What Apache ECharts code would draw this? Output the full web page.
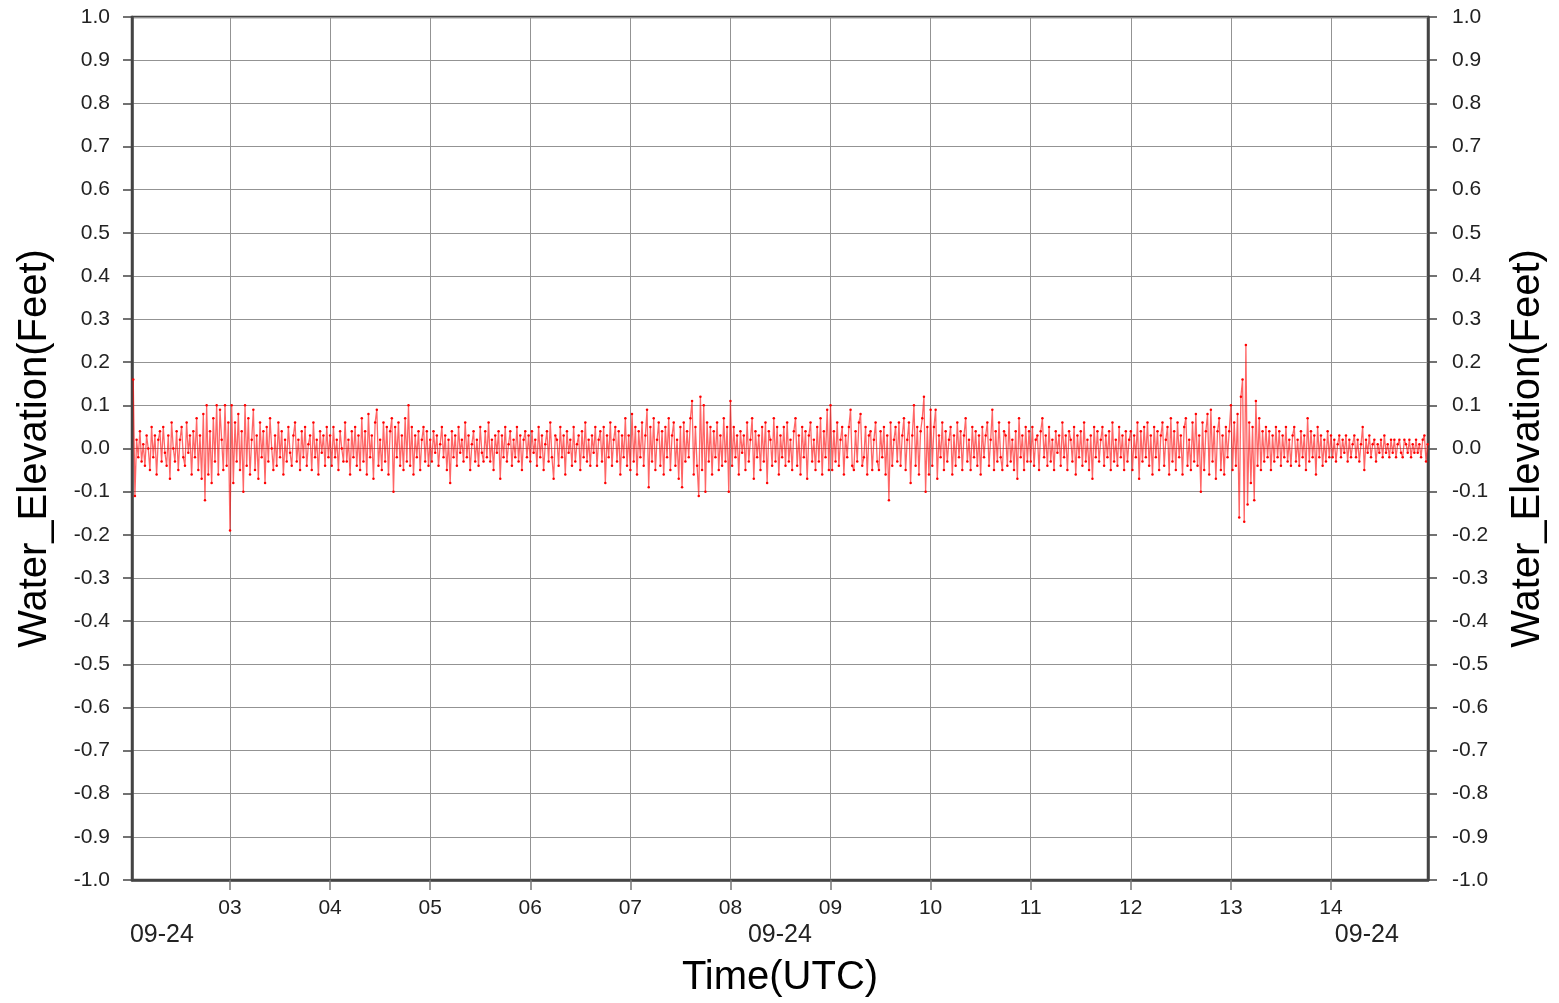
<!DOCTYPE html>
<html>
<head>
<meta charset="utf-8">
<script src="https://cdn.jsdelivr.net/npm/echarts@6/dist/echarts.min.js"></script>
<style>html,body{margin:0;padding:0;background:#fff}#c{width:1559px;height:1003px}</style>
</head>
<body>
<div id="c"></div>
<script>
// Water elevation (ft), one sample per minute, grouped per UTC hour on 09-24
const h02 = [.16,-.11,.02,-.02,.04,-.03,.01,-.04,
 .03,.00,-.05,.05,-.02,.03,-.06,.02,.04,-.03,
 .05,-.01,-.04,.03,-.07,.06,.00,-.03,.04,-.05,
 .02,.05,-.02,-.04,.06,-.01,.03,-.06,.04,-.02,
 .07,-.05,.03,-.07,.08,-.12,.10,-.06,.04,-.08,
 .07,-.03,.10,-.06,.09,.02,-.05,.10,-.04,.06];
const h03 = [-.19,.10,-.08,.06,-.03,.08,-.05,.04,-.10,.10,
 -.04,.07,-.06,.02,.09,-.05,.03,-.07,.06,-.02,
 .04,-.08,.05,-.03,.07,.00,-.05,.03,-.04,.06,
 -.02,.04,-.06,.02,-.03,.05,-.01,-.04,.03,.06,
 -.03,.02,-.05,.04,-.02,.05,-.04,.01,.03,-.05,
 .06,-.02,.02,-.06,.04,-.01,.03,-.04,.05,-.02];
const h04 = [.03,-.04,.05,-.02,.02,-.05,.04,.00,-.03,.06,
 -.03,.02,-.06,.04,-.02,.05,-.04,.03,-.05,.07,
 -.03,.04,-.06,.08,-.02,.03,-.07,.06,.09,-.04,
 .02,-.05,.06,-.03,.05,-.06,.04,.07,-.10,.05,
 -.02,.06,-.04,.03,-.05,.07,-.03,.10,-.04,.05,
 -.06,.03,-.02,.04,-.05,.02,.05,-.03,.04,-.04];
const h05 = [.02,-.03,.04,-.01,.03,-.04,.01,.05,-.02,.03,
 -.05,.02,-.08,.04,-.02,.03,-.04,.05,-.01,.02,
 -.03,.06,-.02,.03,-.05,.01,.04,-.03,.02,-.04,
 .05,-.01,-.03,.04,-.02,.06,-.03,.02,-.05,.03,
 -.01,.04,-.07,.03,-.02,.05,-.03,.01,.04,-.04,
 .02,-.02,.05,-.03,.03,-.05,.02,.04,-.02,.03];
const h06 = [-.03,.04,-.01,.02,-.04,.05,-.02,.03,-.05,.01,
 .04,-.03,.06,-.02,-.07,.03,.02,-.04,.05,-.02,
 .03,-.06,.04,-.01,.02,-.04,.05,-.03,.01,.03,
 -.05,.04,-.02,.06,-.03,.02,-.04,.03,-.01,.05,
 -.04,.02,.04,-.03,.05,-.08,.03,-.02,.06,-.04,
 .02,.05,-.03,.04,-.06,.03,-.02,.07,-.04,.03];
const h07 = [-.05,.08,-.03,.05,-.06,.04,-.02,.06,-.04,.03,
 .09,-.09,.05,-.03,.07,-.05,.02,.06,-.04,.04,
 -.06,.05,-.02,.07,-.05,.03,.06,-.04,.02,-.07,
 .05,-.09,.06,-.03,.04,-.02,.07,.11,-.06,.05,
 -.04,-.11,.12,-.05,.10,-.10,.06,-.03,.05,-.06,
 .04,-.02,.06,-.05,.03,-.04,.07,-.03,.05,-.10];
const h08 = [.11,-.04,.05,-.02,.03,-.06,.04,-.01,.03,-.05,
 .06,-.03,.02,.07,-.07,.04,-.02,.03,-.05,.05,
 -.03,.06,-.08,.04,.02,-.04,.07,-.03,.05,-.06,
 .03,-.02,.05,-.04,.06,-.03,.02,-.05,.04,.07,
 -.04,.03,-.06,.05,-.02,.04,-.07,.03,.06,-.03,
 .02,-.05,.05,-.03,.07,-.06,.04,-.02,.09,-.05];
const h09 = [.10,-.05,.04,-.03,.06,-.04,.02,.05,-.06,.03,
 -.02,.05,.09,-.04,-.05,.04,-.03,.06,.08,-.04,
 -.02,.05,-.06,.03,.04,-.05,.02,.06,-.03,-.05,
 .04,-.02,.05,-.06,.03,-.12,.06,-.04,.02,.05,
 -.03,.06,-.04,.03,.07,-.05,.02,.06,-.08,.03,
 .10,-.04,.05,-.06,.04,.07,.12,-.10,.05,-.06];
const h10 = [.09,-.04,.05,.09,-.07,.03,-.02,.06,-.05,.04,
 -.03,.02,.05,-.06,.03,-.04,.06,-.02,.04,-.05,
 .03,.07,-.03,.02,-.05,.05,-.02,.04,-.04,.03,
 -.06,.05,-.02,.03,.06,-.04,.02,.09,-.05,.04,
 -.03,.06,-.02,-.05,.04,.03,-.04,.06,-.03,.02,
 -.05,.04,-.07,.07,-.02,.03,-.05,.05,-.03,.04];
const h11 = [-.03,.05,-.04,.02,.03,-.05,.04,.07,-.02,.03,
 -.04,.05,-.03,.02,-.05,.04,-.01,.03,-.04,.06,
 -.02,.03,-.05,.04,.02,-.03,.05,-.06,.03,-.02,
 .04,-.04,.06,-.03,.02,-.05,.03,-.07,.05,-.02,
 .04,-.03,.02,.05,-.04,.03,-.02,.04,-.05,.06,
 -.03,.02,-.04,.05,-.02,.03,-.05,.04,-.03,.02];
const h12 = [.04,-.05,.03,-.02,.06,-.07,.04,-.03,.05,-.02,
 .06,-.04,.03,-.06,.05,-.02,.04,-.05,.03,.06,
 -.04,.02,.05,-.06,.07,-.03,.04,-.05,.06,-.02,
 .03,-.06,.05,.07,-.04,.02,-.05,.06,-.03,.08,
 -.04,.03,-.10,.06,-.05,.04,.08,-.06,.09,-.03,
 .05,-.07,.04,.07,-.05,.03,-.06,.05,-.02,.04];
const h13 = [.10,-.05,.06,-.04,.08,-.16,.12,.16,-.17,.24,
 -.13,.06,-.08,.05,-.12,.11,-.04,.07,-.05,.04,
 -.03,.05,-.02,.04,-.05,.03,-.03,.05,-.02,.04,
 -.04,.03,-.02,.05,-.03,.02,-.04,.03,.05,-.03,
 .02,-.04,.04,-.02,.03,-.05,.07,-.03,.04,-.02,
 .03,-.06,.05,-.02,.03,-.04,.02,-.03,.04,-.02];
const h14 = [.03,-.02,.02,-.03,.01,.03,-.02,.02,-.01,.03,
 -.03,.02,-.02,.01,.03,-.02,.02,-.03,.01,.05,
 -.05,.02,-.01,.03,-.02,.01,.02,-.03,.01,-.01,
 .02,-.02,.03,-.01,.01,-.02,.02,-.01,.02,-.02,
 .01,.02,-.01,-.02,.02,.01,-.01,.02,-.02,.01,
 -.01,.02,-.01,.01,-.02,.02,.03,-.03,.01];

// [hour, first minute, samples]
const segments = [[2,2,h02],[3,0,h03],[4,0,h04],[5,0,h05],[6,0,h06],[7,0,h07],
  [8,0,h08],[9,0,h09],[10,0,h10],[11,0,h11],[12,0,h12],[13,0,h13],[14,0,h14]];
const yTicks = [-1.0, 1.0, 0.1];   // min, max, step
const xName = 'Time(UTC)';
const yName = 'Water_Elevation(Feet)';

const Y = 2024, M = 8, D = 24;
const data = [];
segments.forEach(([h, m0, vals]) => {
  vals.forEach((v, i) => data.push([Date.UTC(Y, M, D, h, m0 + i), v]));
});
const tMin = Date.UTC(Y, M, D, 2, 1, 15);
const tMax = Date.UTC(Y, M, D, 14, 58, 10);
const dateMarks = [Date.UTC(Y, M, D, 2, 19, 10), Date.UTC(Y, M, D, 8, 29, 40), Date.UTC(Y, M, D, 14, 21, 30)];

const FONT = 'Liberation Sans';
const axisDark = '#444';
const gridGray = '#939393';
function yAxisCfg(pos) {
  return {
    type: 'value', position: pos, min: yTicks[0], max: yTicks[1], interval: yTicks[2],
    name: yName, nameLocation: 'middle', nameRotate: 90, nameGap: pos === 'left' ? 77 : 80,
    nameTextStyle: { fontFamily: FONT, fontSize: 40, color: '#000' },
    axisLine: { show: true, onZero: false, lineStyle: { color: axisDark, width: 2.5 } },
    axisTick: { show: true, length: 9, lineStyle: { color: axisDark, width: 1.5 } },
    axisLabel: { fontFamily: FONT, fontSize: 21, color: '#222', margin: pos === 'left' ? 22 : 24,
      formatter: v => v.toFixed(1) },
    splitLine: { show: pos === 'left', lineStyle: { color: gridGray, width: 1 } }
  };
}

const chart = echarts.init(document.getElementById('c'), null, { renderer: 'canvas' });
chart.setOption({
  useUTC: true,
  animation: false,
  backgroundColor: '#fff',
  grid: { left: 132, right: 131, top: 17, bottom: 121, show: true,
    borderColor: axisDark, borderWidth: 2.5, containLabel: false },
  xAxis: [{
    type: 'time', min: tMin, max: tMax, minInterval: 3600000, maxInterval: 3600000,
    name: xName, nameLocation: 'middle', nameGap: 78,
    nameTextStyle: { fontFamily: FONT, fontSize: 40, color: '#000' },
    axisLine: { show: true, onZero: false, lineStyle: { color: axisDark, width: 2.5 } },
    axisTick: { show: true, length: 10, lineStyle: { color: '#777', width: 1.5 } },
    axisLabel: { fontFamily: FONT, fontSize: 21, color: '#222', margin: 18,
      formatter: '{HH}', showMinLabel: false, showMaxLabel: false, hideOverlap: false },
    splitLine: { show: true, lineStyle: { color: gridGray, width: 1 } }
  }, {
    type: 'time', min: tMin, max: tMax, position: 'bottom',
    axisLine: { show: false, onZero: false }, axisTick: { show: false }, splitLine: { show: false },
    axisLabel: { fontFamily: FONT, fontSize: 25, color: '#222', margin: 43,
      customValues: dateMarks, formatter: '{MM}-{dd}' }
  }],
  yAxis: [yAxisCfg('left'), yAxisCfg('right')],
  series: [{
    type: 'line', xAxisIndex: 0, yAxisIndex: 0, data: data,
    showSymbol: true, showAllSymbol: true, symbol: 'circle', symbolSize: 2.5,
    itemStyle: { color: '#ff0000' },
    lineStyle: { color: 'rgba(255,0,0,0.6)', width: 1.3 },
    emphasis: { disabled: true }
  }]
});
</script>
</body>
</html>
